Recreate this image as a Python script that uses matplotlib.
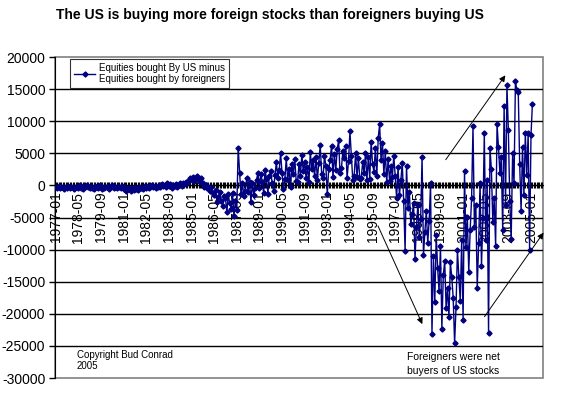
import numpy as np
import pandas as pd
import matplotlib.pyplot as plt
from matplotlib.ticker import MultipleLocator, FixedLocator
from matplotlib.patches import Rectangle

plt.rcParams['font.family'] = ['Liberation Sans', 'DejaVu Sans']

# monthly net equity purchases (millions $), 1977-01 .. 2005-02
y1977 = [-200, -350, -150, -400, -250, -300, -500, -200, -350, -100, -450, -300]
y1978 = [-250, -600, -300, -150, -400, 100, -350, -500, -100, -300, 50, -250]
y1979 = [-400, -200, -350, -600, -150, -300, -450, 0, -100, -500, -350, -200]
y1980 = [-300, -150, -500, -250, 100, -350, -200, -400, -50, -300, -450, -150]
y1981 = [-500, -300, -800, -600, -400, -900, -350, -650, -250, -500, -700, -300]
y1982 = [-450, -200, -600, -100, -350, -50, -400, -250, 100, -300, -150, -350]
y1983 = [-200, 50, -300, 200, -150, 100, -250, 300, -100, 150, -350, 0]
y1984 = [-150, 200, -250, 100, 300, -100, 400, 200, 600, 300, 800, 1100]
y1985 = [900, 1300, 700, 1100, 1400, 800, 500, 1200, 300, -200, 100, -400]
y1986 = [-300, -800, -200, -1200, -1500, -700, -2600, -1800, -1000, -2400, -3200, -1600]
y1987 = [-2000, -4200, -1400, -2800, -3600, -1200, -4800, -2500, -3800, 5900, 2000, -1400]
y1988 = [400, -1700, -800, 1100, -1000, 600, -2600, 300, -1500, -400, 900, 2000]
y1989 = [-400, 1800, 600, -1200, 2400, 1000, -1300, 1500, 2200, 400, -800, 1600]
y1990 = [3600, 1200, 2400, 5000, 1900, -600, 1000, 4200, 800, 2600, -300, 3300]
y1991 = [1800, 4100, 700, 600, 3400, 1500, 4800, 2200, 3700, 1100, 2900, 500]
y1992 = [5200, 2500, 3900, 1400, 4400, 900, 3500, 6300, 1800, 1200, 4600, 3000]
y1993 = [-1400, 2600, 4000, 6200, 1300, 4900, 2400, 5600, 7000, 1900, 2700, 5300]
y1994 = [4300, 6100, 1200, 3800, 8400, 4600, 900, 1500, 5000, 1300, 4200, 1000]
y1995 = [1200, 3600, 1900, 5100, 800, 4400, 1000, 6800, 3300, 2100, 5900, 1500]
y1996 = [7400, 9500, 3900, 6600, 1800, 5300, 500, 4100, 700, 3000, 1300, 4600]
y1997 = [1500, -2000, 2800, -1500, 800, 3500, -2500, -10200, 3100, -3500, -1000, -6000]
y1998 = [-4500, -2800, -11500, -6500, -3000, -8000, -5200, 4400, -10800, -7200, -4000, -9000]
y1999 = [-5500, 300, -23200, -11000, -18100, -7800, -12900, -16500, -9500, -22300, -14000, -11800]
y2000 = [-19100, -16000, -20500, -12000, -14300, -17500, -24600, -19000, -10000, -14300, -18000, -8500]
y2001 = [-21000, 2200, -9600, -4900, -13500, -7000, -2000, 9200, -6500, -3000, -16000, -9000]
y2002 = [300, -12600, -5000, 8100, -8500, 800, -23000, 5800, 2500, -5700, -2000, -9500]
y2003 = [9500, 6000, 2000, 4400, -7000, 12400, -3000, 15600, 8600, -2500, -8400, 5000]
y2004 = [300, 16300, 14800, 14500, 3400, -4000, 6000, -1500, 8100, 1600, 8200, -10000]
y2005 = [7800, 12700]

values = (y1977 + y1978 + y1979 + y1980 + y1981 + y1982 + y1983 + y1984 + y1985
          + y1986 + y1987 + y1988 + y1989 + y1990 + y1991 + y1992 + y1993 + y1994
          + y1995 + y1996 + y1997 + y1998 + y1999 + y2000 + y2001 + y2002 + y2003
          + y2004 + y2005)

# category axis runs a bit past the last reported month
months = pd.period_range('1977-01', '2005-09', freq='M').strftime('%Y-%m').tolist()
label_step = 16

fig = plt.figure(figsize=(5.63, 3.94), dpi=100)
ax = fig.add_axes([0.0977, 0.0406, 0.8668, 0.8147])

x = np.arange(len(values))
ax.plot(x, values, color='#000080', lw=1, marker='D', ms=2.6,
        label='Equities bought By US minus\nEquities bought by foreigners', zorder=3)

ax.set_xlim(-0.5, len(months) - 0.5)
ax.set_ylim(-30000, 20000)

yt = np.arange(-30000, 20001, 5000)
ax.yaxis.set_major_locator(FixedLocator(yt))
ax.set_yticklabels([str(v) for v in yt], fontsize=10)
for v in yt[1:-1]:
    ax.axhline(v, color='black', lw=1, zorder=1)

lab_pos = list(range(0, len(months), label_step))
ax.xaxis.set_major_locator(FixedLocator(lab_pos))
ax.set_xticklabels([months[i] for i in lab_pos], fontsize=7.5)
ax.xaxis.set_minor_locator(MultipleLocator(1))
ax.tick_params(axis='x', which='both', direction='inout', length=5, width=0.8, pad=2)
ax.tick_params(axis='x', which='major', labelrotation=90)
ax.tick_params(axis='y', direction='out', length=4, width=1, pad=3)

ax.spines['bottom'].set_position(('data', 0))
ax.spines['bottom'].set_color('black')
ax.spines['left'].set_color('black')
ax.spines['top'].set_visible(False)
ax.spines['right'].set_visible(False)
ax.add_patch(Rectangle((0, 0), 1, 1, transform=ax.transAxes, fill=False,
                       edgecolor='#808080', lw=1.2, clip_on=False, zorder=0))

leg = ax.legend(loc='upper left', bbox_to_anchor=(0.031, 0.994), fontsize=7,
                frameon=True, fancybox=False, edgecolor='black', borderpad=0.4,
                handlelength=2.2, handletextpad=0.4, borderaxespad=0)
leg.get_frame().set_linewidth(0.8)

fig.text(0.48, 0.962, 'The US is buying more foreign stocks than foreigners buying US',
         ha='center', va='center', fontsize=10, fontweight='bold')

ax.text(15, -25600, 'Copyright Bud Conrad\n2005', fontsize=7, va='top', ha='left')
ax.text(248, -25900, 'Foreigners were net\nbuyers of US stocks', fontsize=7.5,
        va='top', ha='left', linespacing=1.5)

arrow = dict(arrowstyle='-|>', color='black', lw=0.7, mutation_scale=9)
ax.annotate('', xy=(319, 17500), xytext=(274.6, 3650), arrowprops=arrow)
ax.annotate('', xy=(260, -22000), xytext=(227, -5900), arrowprops=arrow)
ax.annotate('', xy=(346, -7000), xytext=(302, -20800), arrowprops=arrow,
            annotation_clip=False)

fig.savefig('out.png', dpi=100)
